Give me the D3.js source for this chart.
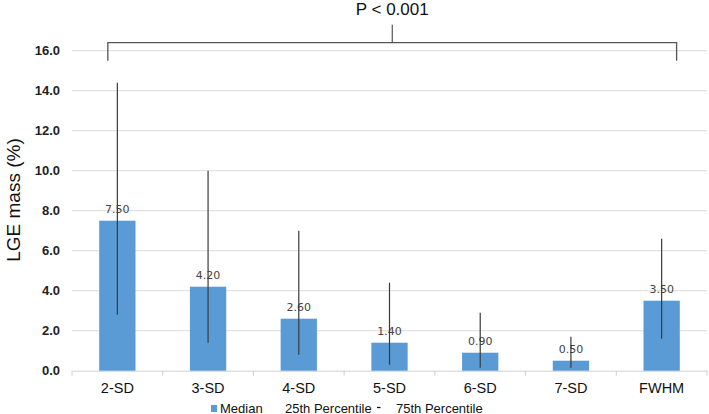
<!DOCTYPE html>
<html><head><meta charset="utf-8">
<script src="https://cdn.jsdelivr.net/npm/d3@7"></script>
<style>body{margin:0;background:#fff}</style>
</head><body>
<svg id="c" width="709" height="414"></svg>
<script>
const categories = ["2-SD","3-SD","4-SD","5-SD","6-SD","7-SD","FWHM"];
const medians = [7.5, 4.2, 2.6, 1.4, 0.9, 0.5, 3.5];
const p25 = [2.8, 1.4, 0.8, 0.3, 0.15, 0.15, 1.6];
const p75 = [14.4, 10.0, 7.0, 4.4, 2.9, 1.7, 6.6];
const yTicks = [0, 2, 4, 6, 8, 10, 12, 14, 16];
const pText = "P < 0.001";

const svg = d3.select("#c");
const m = {l:72, r:2, t:50.7, b:43.3};
const W = 709, H = 414;
const x = d3.scaleBand().domain(categories).range([m.l, W - m.r]).paddingInner(0).paddingOuter(0);
const y = d3.scaleLinear().domain([0, 16]).range([H - m.b, m.t]);
const font = "Liberation Sans, Arial, sans-serif";

// gridlines
svg.append("g").selectAll("line").data(yTicks.filter(d => d > 0)).join("line")
  .attr("x1", m.l).attr("x2", W - m.r)
  .attr("y1", d => y(d)).attr("y2", d => y(d))
  .attr("stroke", "#e3e3e3").attr("stroke-width", 1.3);

// y tick labels
svg.append("g").selectAll("text").data(yTicks).join("text")
  .attr("x", 60).attr("y", d => y(d)).attr("dy", "0.35em")
  .attr("text-anchor", "end").attr("font-family", font)
  .attr("font-weight", "bold").attr("font-size", 13).attr("fill", "#222")
  .text(d => d.toFixed(1));

// x axis
const xa = svg.append("g").attr("transform", `translate(0,${y(0)})`)
  .call(d3.axisBottom(x).tickSize(0).tickPadding(12));
xa.select(".domain").attr("stroke", "#d0d0d0");
xa.selectAll("text").attr("font-family", font).attr("font-size", 14.5).attr("fill", "#111");
const bounds = categories.map(c => x(c)).concat([x(categories[categories.length-1]) + x.bandwidth()]);
svg.append("g").selectAll("line").data(bounds).join("line")
  .attr("x1", d => d).attr("x2", d => d)
  .attr("y1", y(0)).attr("y2", y(0) + 5)
  .attr("stroke", "#d0d0d0");

// bars
const bw = x.bandwidth() * 0.4;
svg.append("g").selectAll("rect").data(categories).join("rect")
  .attr("x", (d) => x(d) + (x.bandwidth() - bw) / 2)
  .attr("y", (d, i) => y(medians[i]))
  .attr("width", bw)
  .attr("height", (d, i) => y(0) - y(medians[i]))
  .attr("fill", "#5b9bd5");

// data labels
svg.append("g").selectAll("text").data(categories).join("text")
  .attr("x", d => x(d) + x.bandwidth() / 2)
  .attr("y", (d, i) => y(medians[i]) - 8)
  .attr("text-anchor", "middle").attr("font-family", "DejaVu Sans, sans-serif")
  .attr("font-size", 11).attr("fill", "#444")
  .text((d, i) => medians[i].toFixed(2));

// percentile lines
svg.append("g").selectAll("line").data(categories).join("line")
  .attr("x1", d => x(d) + x.bandwidth() / 2).attr("x2", d => x(d) + x.bandwidth() / 2)
  .attr("y1", (d, i) => y(p25[i])).attr("y2", (d, i) => y(p75[i]))
  .attr("stroke", "#3a3a3a").attr("stroke-width", 1.2);

// significance bracket
const bx1 = x(categories[0]) + x.bandwidth() * 0.395;
const bx2 = x(categories[categories.length-1]) + x.bandwidth() * 0.665;
const bTop = y(16.4), bBot = y(15.5);
const bMid = (bx1 + bx2) / 2;
svg.append("path")
  .attr("d", `M${bx1},${bBot}V${bTop}H${bx2}V${bBot}`)
  .attr("fill", "none").attr("stroke", "#555").attr("stroke-width", 1.3);
svg.append("line").attr("x1", bMid).attr("x2", bMid)
  .attr("y1", bTop).attr("y2", y(17.3)).attr("stroke", "#333").attr("stroke-width", 1);
svg.append("text").attr("x", bMid).attr("y", 15)
  .attr("text-anchor", "middle").attr("font-family", font).attr("font-size", 17).attr("fill", "#111")
  .text(pText);

// y axis title
svg.append("text").attr("transform", `translate(20,200) rotate(-90)`)
  .attr("text-anchor", "middle").attr("font-family", font).attr("font-size", 19).attr("fill", "#111")
  .text("LGE mass (%)");

// legend
const lg = svg.append("g").attr("font-family", font).attr("font-size", 13).attr("fill", "#111");
lg.append("rect").attr("x", 211).attr("y", 405).attr("width", 6).attr("height", 7).attr("fill", "#5b9bd5");
lg.append("text").attr("x", 220).attr("y", 412.5).text("Median");
lg.append("text").attr("x", 285).attr("y", 412.5).text("25th Percentile");
lg.append("line").attr("x1", 377).attr("x2", 380.5).attr("y1", 407.5).attr("y2", 407.5).attr("stroke", "#111").attr("stroke-width", 1.3);
lg.append("text").attr("x", 396).attr("y", 412.5).text("75th Percentile");
</script>
</body></html>
